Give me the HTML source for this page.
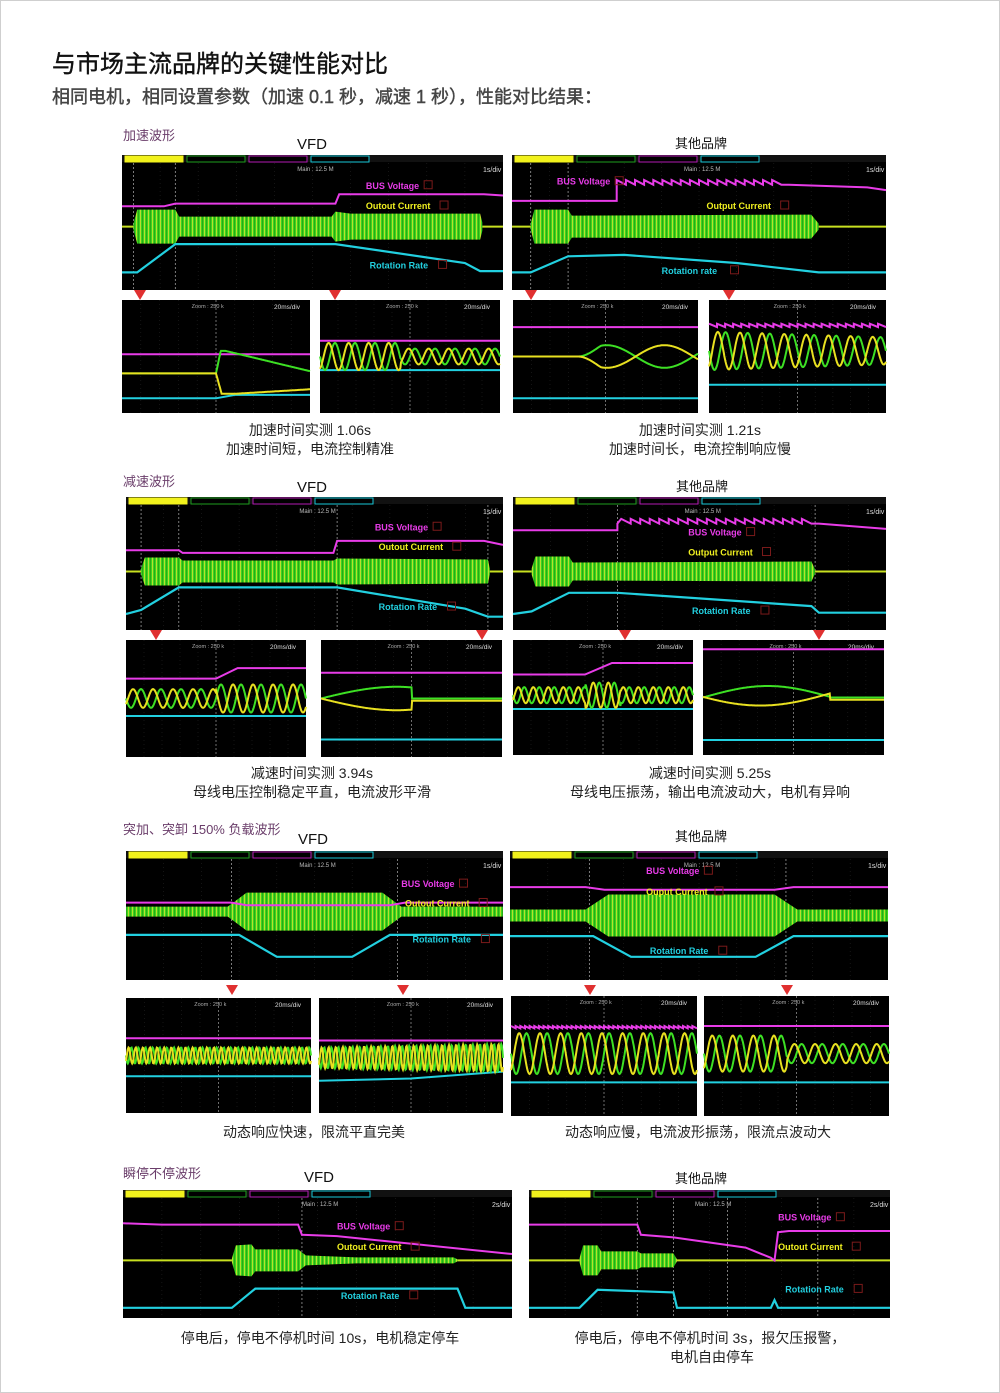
<!DOCTYPE html>
<html><head><meta charset="utf-8">
<style>
html,body{margin:0;padding:0;background:#fff}
body{width:1000px;height:1393px;position:relative;overflow:hidden;font-family:"Liberation Sans","Noto Sans CJK SC",sans-serif}
#pg{position:absolute;left:0;top:0;width:998px;height:1391px;border:1px solid #cfcfcf}
</style></head><body>
<div id="pg"></div>
<svg id="s" width="1000" height="1393" style="position:absolute;left:0;top:0" xmlns="http://www.w3.org/2000/svg">
<defs>
<pattern id="st" width="4" height="10" patternUnits="userSpaceOnUse">
<rect width="4" height="10" fill="#3cd61e"/><rect x="0" width="0.9" height="10" fill="#c8e030"/><rect x="2.2" width="0.6" height="10" fill="#1f8a10"/>
</pattern>
</defs>
<g font-family="Liberation Sans, Noto Sans CJK SC, sans-serif">
<text x="52" y="72" font-size="24" fill="#111" stroke="#111" stroke-width="0.4">与市场主流品牌的关键性能对比</text>
<text x="52" y="103" font-size="18" fill="#444" stroke="#444" stroke-width="0.4">相同电机，相同设置参数（加速 0.1 秒，减速 1 秒），性能对比结果：</text>

<text x="123" y="140" font-size="13" fill="#6a3d6a">加速波形</text>
<text x="297" y="149" font-size="15" fill="#111">VFD</text>
<text x="675" y="148" font-size="13" fill="#111">其他品牌</text>
<text x="310" y="435" font-size="14" fill="#222" text-anchor="middle">加速时间实测 1.06s</text>
<text x="310" y="454" font-size="14" fill="#222" text-anchor="middle">加速时间短，电流控制精准</text>
<text x="700" y="435" font-size="14" fill="#222" text-anchor="middle">加速时间实测 1.21s</text>
<text x="700" y="454" font-size="14" fill="#222" text-anchor="middle">加速时间长，电流控制响应慢</text>

<text x="123" y="486" font-size="13" fill="#6a3d6a">减速波形</text>
<text x="297" y="492" font-size="15" fill="#111">VFD</text>
<text x="676" y="491" font-size="13" fill="#111">其他品牌</text>
<text x="312" y="778" font-size="14" fill="#222" text-anchor="middle">减速时间实测 3.94s</text>
<text x="312" y="797" font-size="14" fill="#222" text-anchor="middle">母线电压控制稳定平直，电流波形平滑</text>
<text x="710" y="778" font-size="14" fill="#222" text-anchor="middle">减速时间实测 5.25s</text>
<text x="710" y="797" font-size="14" fill="#222" text-anchor="middle">母线电压振荡，输出电流波动大，电机有异响</text>

<text x="123" y="834" font-size="13" fill="#6a3d6a">突加、突卸 150% 负载波形</text>
<text x="298" y="844" font-size="15" fill="#111">VFD</text>
<text x="675" y="841" font-size="13" fill="#111">其他品牌</text>
<text x="314" y="1137" font-size="14" fill="#222" text-anchor="middle">动态响应快速，限流平直完美</text>
<text x="698" y="1137" font-size="14" fill="#222" text-anchor="middle">动态响应慢，电流波形振荡，限流点波动大</text>

<text x="123" y="1178" font-size="13" fill="#6a3d6a">瞬停不停波形</text>
<text x="304" y="1182" font-size="15" fill="#111">VFD</text>
<text x="675" y="1183" font-size="13" fill="#111">其他品牌</text>
<text x="320" y="1343" font-size="14" fill="#222" text-anchor="middle">停电后，停电不停机时间 10s，电机稳定停车</text>
<text x="710" y="1343" font-size="14" fill="#222" text-anchor="middle">停电后，停电不停机时间 3s，报欠压报警，</text>
<text x="712" y="1362" font-size="14" fill="#222" text-anchor="middle">电机自由停车</text>
</g>
<g id="dyn"></g>
</svg>
<script>
var NS="http://www.w3.org/2000/svg",G=document.getElementById("dyn");
function el(t,a,txt){var e=document.createElementNS(NS,t);for(var k in a)e.setAttribute(k,a[k]);if(txt)e.textContent=txt;G.appendChild(e);return e;}
function poly(pts,col,w){el("polyline",{points:pts.map(function(p){return p[0].toFixed(1)+","+p[1].toFixed(1)}).join(" "),fill:"none",stroke:col,"stroke-width":w||2});}
function grid(x,y,w,h){for(var i=1;i<10;i++)el("line",{x1:x+w*i/10,y1:y,x2:x+w*i/10,y2:y+h,stroke:"#222","stroke-width":0.6,"stroke-dasharray":"1,3"});}
function big(x,y,w,h,o){
 el("rect",{x:x,y:y,width:w,height:h,fill:"#000"});grid(x,y+8,w,h-8);
 el("rect",{x:x,y:y,width:w,height:7,fill:"#111"});
 var c=["#f2f21c","#1e9e1e","#b21ab2","#18c8d8"];for(var i=0;i<4;i++){el("rect",{x:x+3+i*62,y:y+1,width:58,height:6,fill:i==0?c[0]:"#000",stroke:c[i],"stroke-width":1});}
 el("text",{x:x+w*0.46,y:y+16,"font-size":6,fill:"#bbb"},"Main : 12.5 M");
 el("text",{x:x+w-20,y:y+17,"font-size":7,fill:"#ddd"},o.div||"1s/div");
 var X=function(f){return x+f*w},Y=function(f){return y+f*h};
 if(o.vl)o.vl.forEach(function(f){el("line",{x1:X(f),y1:y+8,x2:X(f),y2:y+h,stroke:"#999","stroke-width":0.8,"stroke-dasharray":"2,2"});});
 poly([[x,Y(o.cy)],[x+w,Y(o.cy)]],"#c8e020",2);
 var top=[],bot=[];o.band.forEach(function(b){top.push([X(b[0]),Y(o.cy)-b[1]]);bot.unshift([X(b[0]),Y(o.cy)+b[1]]);});
 el("polygon",{points:top.concat(bot).map(function(p){return p[0].toFixed(1)+","+p[1].toFixed(1)}).join(" "),fill:"url(#st)"});
 poly(o.bus.map(function(p){return[X(p[0]),Y(p[1])]}),"#e83ce8",2);
 poly(o.cyan.map(function(p){return[X(p[0]),Y(p[1])]}),"#22d0e0",2.2);
 o.lab.forEach(function(l){el("text",{x:X(l[0]),y:Y(l[1]),"font-size":9,"font-weight":"bold",fill:l[2]},l[3]);el("rect",{x:X(l[0])+l[3].length*5.3,y:Y(l[1])-8,width:8,height:8,fill:"none",stroke:"#7a1a1a","stroke-width":1});});
}
function saw(x0,x1,y0,n,a){var p=[];for(var i=0;i<n;i++){var xa=x0+(x1-x0)*i/n,xb=x0+(x1-x0)*(i+1)/n;p.push([xa,y0-a]);p.push([xb,y0]);}return p;}
function arrow(x,y){el("polygon",{points:(x-6)+","+y+" "+(x+6)+","+y+" "+x+","+(y+10),fill:"#e03030"});}
function small(x,y,w,h,o){
 el("rect",{x:x,y:y,width:w,height:h,fill:"#000"});grid(x,y,w,h);
 el("line",{x1:x+w*0.5,y1:y,x2:x+w*0.5,y2:y+h,stroke:"#888","stroke-width":0.8,"stroke-dasharray":"2,2"});
 el("text",{x:x+w*0.45-15,y:y+8,"font-size":5.5,fill:"#aaa"},"Zoom : 250 k");
 el("text",{x:x+w-36,y:y+9,"font-size":6.5,fill:"#ddd"},"20ms/div");
 var X=function(f){return x+f*w},Y=function(f){return y+f*h};
 poly(o.m.map(function(p){return[X(p[0]),Y(p[1])]}),"#e83ce8",2);
 poly(o.c.map(function(p){return[X(p[0]),Y(p[1])]}),"#22d0e0",2);
 var g=[],yy=[];for(var i=0;i<=300;i++){var t=i/300,r=o.f(t);g.push([X(t),Y(r[0])]);yy.push([X(t),Y(r[1])]);}
 poly(g,"#3de024",2);poly(yy,"#e8e020",2);
}
function sw(c,a,n,ph){return function(t){return [c+a(t)*Math.sin(2*Math.PI*n*t),c+a(t)*Math.sin(2*Math.PI*n*t+ph)];};}
var W="#f0f020",M="#e83ce8",C="#22d0e0";
big(122,155,381,135,{cy:.53,vl:[.03,.14],bus:[[0,.38],[.11,.38],[.14,.36],[.56,.36],[.57,.29],[.95,.29],[1,.3]],
 band:[[.03,3],[.04,17],[.14,17],[.15,10],[.55,10],[.56,15],[.6,13],[.94,13],[.946,4]],
 cyan:[[0,.87],[.04,.87],[.14,.66],[.56,.66],[.9,.8],[.94,.86],[1,.86]],
 lab:[[.64,.25,M,"BUS Voltage"],[.64,.4,W,"Outout Current"],[.65,.84,C,"Rotation Rate"]]});
big(512,155,374,135,{cy:.53,vl:[.05,.15],bus:[[0,.34],[.28,.34]].concat(saw(.28,.72,.22,18,.035)).concat([[.74,.22],[.95,.24],[1,.26]]),
 band:[[.05,3],[.06,17],[.15,17],[.16,11],[.8,12],[.82,3]],
 cyan:[[0,.87],[.05,.87],[.15,.75],[.3,.74],[.6,.8],[.82,.87],[1,.87]],
 lab:[[.12,.22,M,"BUS Voltage"],[.52,.4,W,"Output Current"],[.4,.88,C,"Rotation rate"]]});
arrow(140,290);arrow(335,290);arrow(531,290);arrow(729,290);
small(122,300,188,113,{m:[[0,.48],[1,.48]],c:[[0,.87],[.5,.87],[.6,.84],[1,.84]],f:function(t){var b=.65;if(t<.5)return[b,b];var d=t-.5;return[b-Math.min(d*8,.2)+Math.max(0,d-.05)*0.4,b+Math.min(d*6,.18)-Math.max(0,d-.1)*0.1];}});
small(320,300,180,113,{m:[[0,.36],[1,.36]],c:[[0,.62],[1,.62]],f:sw(.5,function(t){return t<.45?.12:.07},9,2)});
small(513,300,185,113,{m:[[0,.24],[1,.24]],c:[[0,.87],[1,.87]],f:function(t){var b=.5,a=t<.35?0:.1*Math.min(1,(t-.35)*8);return[b-a*Math.sin(Math.PI*2*(t-.35)*1.6),b+a*Math.sin(Math.PI*2*(t-.35)*1.6)];}});
small(709,300,177,113,{m:saw(0,1,.24,22,.03),c:[[0,.75],[1,.75]],f:sw(.45,function(t){return .17-.05*t},8,2.2)});
big(126,497,377,133,{cy:.56,vl:[.04,.14,.56,.96],bus:[[0,.4],[.14,.4],[.15,.42],[.55,.42],[.56,.33],[.95,.33],[1,.36]],
 band:[[.04,3],[.05,14],[.14,14],[.15,11],[.55,11],[.56,13],[.96,12],[.965,3]],
 cyan:[[0,.88],[.04,.85],[.14,.68],[.56,.68],[.9,.84],[.96,.9],[1,.9]],
 lab:[[.66,.25,M,"BUS Voltage"],[.67,.4,W,"Outout Current"],[.67,.85,C,"Rotation Rate"]]});
big(513,497,373,133,{cy:.56,vl:[.28,.81],bus:[[0,.25],[.13,.25],[.28,.25],[.28,.2]].concat(saw(.29,.8,.2,20,.035)).concat([[.82,.2],[1,.24]]),
 band:[[.05,3],[.06,15],[.15,15],[.16,9],[.8,10],[.81,2]],
 cyan:[[0,.88],[.05,.86],[.15,.72],[.28,.72],[.8,.82],[.82,.87],[1,.87]],
 lab:[[.47,.29,M,"BUS Voltage"],[.47,.44,W,"Output Current"],[.48,.88,C,"Rotation Rate"]]});
arrow(156,630);arrow(482,630);arrow(625,630);arrow(819,630);
small(126,640,180,117,{m:[[0,.33],[.5,.33],[.62,.24],[1,.24]],c:[[0,.65],[1,.65]],f:sw(.5,function(t){return t<.5?.08:.12},9,2.5)});
small(321,640,181,117,{m:[[0,.28],[1,.28]],c:[[0,.85],[1,.85]],f:function(t){if(t>.5)return[.5,.52];var a=.1*Math.sin(Math.PI*t*1.2);return[.45-a+.05,.5+a];}});
small(513,640,180,115,{m:[[0,.3],[.4,.3],[.55,.2],[1,.2]],c:[[0,.6],[1,.6]],f:sw(.48,function(t){return t>.4&&t<.6?.11:.07},12,2.5)});
small(703,640,181,115,{m:[[0,.08],[1,.08]],c:[[0,.87],[1,.87]],f:function(t){if(t>.7)return[.5,.52];return[.5-.1*Math.sin(Math.PI*t*1.4),.45+.12*Math.sin(Math.PI*(t+.1)*1.2)];}});
big(126,851,377,129,{cy:.47,vl:[.28,.72],bus:[[0,.4],[.28,.4],[.32,.42],[.7,.42],[.74,.4],[1,.4]],
 band:[[0,5],[.27,5],[.32,19],[.68,19],[.73,5],[1,5]],
 cyan:[[0,.65],[.3,.65],[.4,.82],[.6,.82],[.7,.65],[1,.65]],
 lab:[[.73,.28,M,"BUS Voltage"],[.74,.43,W,"Outout Current"],[.76,.71,C,"Rotation Rate"]]});
big(510,851,378,129,{cy:.5,vl:[.21,.73],bus:[[0,.28],[.2,.28],[.25,.3],[.7,.3],[.75,.28],[1,.28]],
 band:[[0,6],[.2,6],[.26,21],[.7,21],[.76,6],[1,6]],
 cyan:[[0,.66],[.22,.66],[.32,.82],[.65,.82],[.75,.66],[1,.66]],
 lab:[[.36,.18,M,"BUS Voltage"],[.36,.34,W,"Ouput Current"],[.37,.8,C,"Rotation Rate"]]});
arrow(232,985);arrow(403,985);arrow(590,985);arrow(787,985);
small(126,998,185,115,{m:[[0,.35],[1,.35]],c:[[0,.68],[1,.68]],f:sw(.5,function(){return .07},26,2.4)});
small(319,998,184,115,{m:[[0,.37],[1,.37]],c:[[0,.72],[.5,.7],[1,.64]],f:sw(.52,function(t){return .09+.03*t},26,2.4)});
small(511,996,186,120,{m:saw(0,1,.27,40,.02),c:[[0,.72],[1,.72]],f:sw(.48,function(){return .17},9,2.2)});
small(704,996,185,120,{m:[[0,.25],[1,.25]],c:[[0,.72],[1,.72]],f:sw(.48,function(t){return t<.45?.15:.08},9,2.2)});
big(123,1190,389,128,{cy:.55,div:"2s/div",vl:[.46],bus:[[0,.26],[.1,.27],[.45,.27],[.46,.35],[.55,.36],[1,.5]],
 band:[[.28,2],[.29,15],[.33,16],[.34,11],[.45,11],[.47,5],[.6,3],[.85,3],[.86,1]],
 cyan:[[0,.92],[.28,.92],[.34,.77],[.86,.77],[.88,.92],[1,.92]],
 lab:[[.55,.31,M,"BUS Voltage"],[.55,.47,W,"Outout Current"],[.56,.85,C,"Rotation Rate"]]});
big(529,1190,361,128,{cy:.55,div:"2s/div",vl:[.3,.4,.55,.8],bus:[[0,.27],[.19,.27],[.3,.27],[.31,.35],[.4,.37],[.6,.45],[.67,.53],[.68,.55],[.69,.33],[.72,.32],[1,.32]],
 band:[[.14,2],[.15,15],[.19,15],[.2,9],[.3,9],[.31,7],[.4,7],[.41,1]],
 cyan:[[0,.92],[.14,.92],[.19,.78],[.4,.8],[.41,.92],[.67,.92],[.68,.86],[.69,.92],[1,.92]],
 lab:[[.69,.24,M,"BUS Voltage"],[.69,.47,W,"Outout Current"],[.71,.8,C,"Rotation Rate"]]});
</script>
</body></html>
